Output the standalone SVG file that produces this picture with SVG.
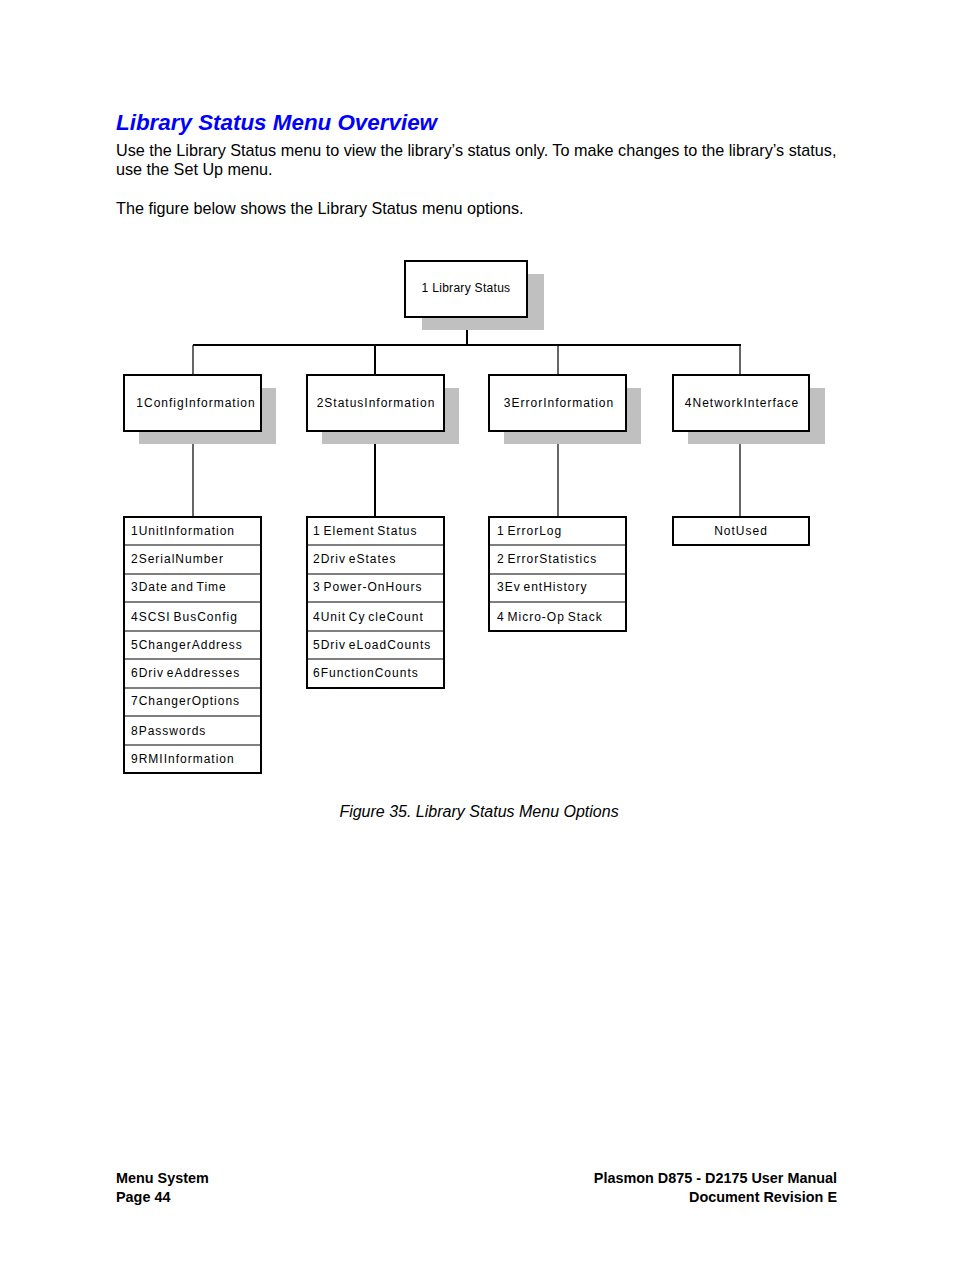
<svg xmlns="http://www.w3.org/2000/svg" width="954" height="1270" viewBox="0 0 954 1270">
<style>
.pg{font-family:"Liberation Sans",Arial,sans-serif;fill:#000}
.title{font-family:"Liberation Sans",Arial,sans-serif;font-weight:bold;font-style:italic;font-size:22.4px;fill:#0000ff}
.body{font-size:16.2px}
.cap{font-size:16px;font-style:italic}
.foot{font-size:14.4px;font-weight:bold}
.shadow{fill:#c0c0c0}
.box{fill:#fff;stroke:#000;stroke-width:2}
.sep{stroke:#000;stroke-width:1.2}
.lbl{font-family:"Liberation Sans",Arial,sans-serif;font-size:12px;letter-spacing:1px;word-spacing:-1.5px;fill:#000}
.mid{text-anchor:middle}
.conn{stroke:#000;fill:none}
</style>
<rect width="954" height="1270" fill="#fff"/>
<text class="title" x="116" y="130">Library Status Menu Overview</text>
<text class="pg body" x="116" y="156">Use the Library Status menu to view the library’s status only. To make changes to the library’s status,</text>
<text class="pg body" x="116" y="175">use the Set Up menu.</text>
<text class="pg body" x="116" y="214">The figure below shows the Library Status menu options.</text>

<g id="connectors">
<line class="conn" stroke-width="2" x1="467" y1="317" x2="467" y2="345"/>
<line class="conn" stroke-width="2" x1="193" y1="345" x2="741" y2="345"/>
<line class="conn" stroke-width="1.2" x1="193" y1="345" x2="193" y2="374"/>
<line class="conn" stroke-width="2" x1="375" y1="345" x2="375" y2="374"/>
<line class="conn" stroke-width="1.2" x1="558" y1="345" x2="558" y2="374"/>
<line class="conn" stroke-width="1.2" x1="740" y1="345" x2="740" y2="374"/>
<line class="conn" stroke-width="1.2" x1="193" y1="431" x2="193" y2="516"/>
<line class="conn" stroke-width="2" x1="375" y1="431" x2="375" y2="516"/>
<line class="conn" stroke-width="1.2" x1="558" y1="431" x2="558" y2="516"/>
<line class="conn" stroke-width="1.2" x1="740" y1="431" x2="740" y2="516"/>
</g>

<g id="root">
<rect class="shadow" x="422" y="274" width="122" height="56"/>
<rect class="box" x="405" y="261" width="122" height="56"/>
<text class="lbl mid" x="466" y="292" style="letter-spacing:0.3px;word-spacing:0">1 Library Status</text>
</g>

<g id="config">
<rect class="shadow" x="139" y="388" width="137" height="56"/>
<rect class="box" x="124" y="375" width="137" height="56"/>
<text class="lbl mid" x="196" y="407">1ConfigInformation</text>
</g>
<g id="status">
<rect class="shadow" x="322" y="388" width="137" height="56"/>
<rect class="box" x="307" y="375" width="137" height="56"/>
<text class="lbl mid" x="376" y="407">2StatusInformation</text>
</g>
<g id="error">
<rect class="shadow" x="504" y="388" width="137" height="56"/>
<rect class="box" x="489" y="375" width="137" height="56"/>
<text class="lbl mid" x="559" y="407">3ErrorInformation</text>
</g>
<g id="network">
<rect class="shadow" x="688" y="388" width="137" height="56"/>
<rect class="box" x="673" y="375" width="136" height="56"/>
<text class="lbl mid" x="742" y="407">4NetworkInterface</text>
</g>

<g id="config-list">
<rect class="box" x="124" y="517" width="137" height="256"/>
<line class="sep" x1="124" y1="545" x2="261" y2="545"/>
<line class="sep" x1="124" y1="574" x2="261" y2="574"/>
<line class="sep" x1="124" y1="602" x2="261" y2="602"/>
<line class="sep" x1="124" y1="631" x2="261" y2="631"/>
<line class="sep" x1="124" y1="659" x2="261" y2="659"/>
<line class="sep" x1="124" y1="688" x2="261" y2="688" stroke-width="2"/>
<line class="sep" x1="124" y1="716" x2="261" y2="716"/>
<line class="sep" x1="124" y1="745" x2="261" y2="745"/>
<text class="lbl" x="131" y="535">1UnitInformation</text>
<text class="lbl" x="131" y="563">2SerialNumber</text>
<text class="lbl" x="131" y="591">3Date and Time</text>
<text class="lbl" x="131" y="621">4SCSI BusConfig</text>
<text class="lbl" x="131" y="649">5ChangerAddress</text>
<text class="lbl" x="131" y="677">6Driv eAddresses</text>
<text class="lbl" x="131" y="705">7ChangerOptions</text>
<text class="lbl" x="131" y="735">8Passwords</text>
<text class="lbl" x="131" y="763">9RMIInformation</text>
</g>

<g id="status-list">
<rect class="box" x="307" y="517" width="137" height="171"/>
<line class="sep" x1="307" y1="545" x2="444" y2="545"/>
<line class="sep" x1="307" y1="574" x2="444" y2="574"/>
<line class="sep" x1="307" y1="602" x2="444" y2="602"/>
<line class="sep" x1="307" y1="631" x2="444" y2="631"/>
<line class="sep" x1="307" y1="659" x2="444" y2="659"/>
<text class="lbl" x="313" y="535">1 Element Status</text>
<text class="lbl" x="313" y="563">2Driv eStates</text>
<text class="lbl" x="313" y="591">3 Power-OnHours</text>
<text class="lbl" x="313" y="621">4Unit Cy cleCount</text>
<text class="lbl" x="313" y="649">5Driv eLoadCounts</text>
<text class="lbl" x="313" y="677">6FunctionCounts</text>
</g>

<g id="error-list">
<rect class="box" x="489" y="517" width="137" height="114"/>
<line class="sep" x1="489" y1="545" x2="626" y2="545"/>
<line class="sep" x1="489" y1="574" x2="626" y2="574"/>
<line class="sep" x1="489" y1="602" x2="626" y2="602" stroke-width="2"/>
<text class="lbl" x="497" y="535">1 ErrorLog</text>
<text class="lbl" x="497" y="563">2 ErrorStatistics</text>
<text class="lbl" x="497" y="591">3Ev entHistory</text>
<text class="lbl" x="497" y="621">4 Micro-Op Stack</text>
</g>

<g id="network-list">
<rect class="box" x="673" y="517" width="136" height="28"/>
<text class="lbl mid" x="741" y="535">NotUsed</text>
</g>

<text class="pg cap" x="479" y="817" text-anchor="middle">Figure 35. Library Status Menu Options</text>

<text class="pg foot" x="116" y="1183">Menu System</text>
<text class="pg foot" x="116" y="1202">Page 44</text>
<text class="pg foot" x="837" y="1183" text-anchor="end">Plasmon D875 - D2175 User Manual</text>
<text class="pg foot" x="837" y="1202" text-anchor="end">Document Revision E</text>
</svg>
